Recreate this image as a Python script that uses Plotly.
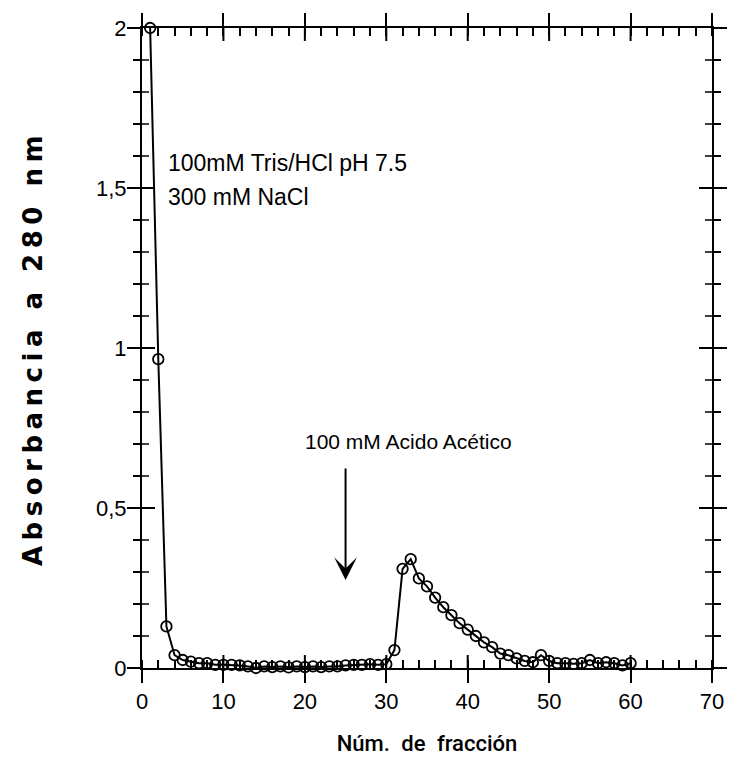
import numpy as np
import plotly.graph_objects as go

# ---- data -------------------------------------------------------------
fraccion = list(range(1, 61))
absorbancia = [
    2.0, 0.965, 0.13, 0.04, 0.025, 0.02, 0.015, 0.015, 0.01, 0.01,
    0.01, 0.008, 0.005, 0.0, 0.005, 0.003, 0.005, 0.002, 0.005, 0.003,
    0.005, 0.003, 0.005, 0.005, 0.008, 0.01, 0.01, 0.012, 0.01, 0.012,
    0.056, 0.31, 0.34, 0.28, 0.255, 0.22, 0.19, 0.165, 0.14, 0.12,
    0.10, 0.08, 0.065, 0.045, 0.04, 0.03, 0.022, 0.018, 0.04, 0.022,
    0.015, 0.015, 0.013, 0.015, 0.025, 0.015, 0.018, 0.015, 0.008, 0.015,
]
x_range = [0, 70]
y_range = [0, 2]
x_major, x_minor = 10, 2
y_major, y_minor = 0.5, 0.1

buffer_text = ["100mM Tris/HCl pH 7.5", "300 mM NaCl"]
buffer_pos = [(2.95, 1.578), (2.95, 1.472)]
acid_text = "100 mM Acido Acético"
acid_pos = (32.7, 0.709)
arrow_x = 25
arrow_tail_y = 0.628
arrow_tip_y = 0.275

x_title = "Núm. de fracción"
y_title = "Absorbancia a 280 nm"

# ---- figure -----------------------------------------------------------
TICK_FONT = dict(family="Liberation Sans, Arial, sans-serif", size=22, color="black")
TXT_FONT = "Liberation Sans, Arial, sans-serif"
MAJ_LEN, MIN_LEN = 13, 7

fig = go.Figure()
fig.add_trace(go.Scatter(
    x=fraccion, y=absorbancia, mode="lines+markers",
    line=dict(color="black", width=2),
    marker=dict(symbol="circle-open", size=10.5, color="black",
                line=dict(width=1.8, color="black")),
    cliponaxis=False, showlegend=False, hoverinfo="x+y",
))

common = dict(showgrid=False, zeroline=False, tickcolor="black",
              tickwidth=2, mirror="ticks", showline=True,
              linecolor="black", linewidth=2, tickfont=TICK_FONT)

fig.update_layout(
    width=738, height=773,
    margin=dict(l=142, r=26, t=28, b=105),
    paper_bgcolor="white", plot_bgcolor="white",
    separators=",.",
    xaxis=dict(
        range=x_range, tick0=0, dtick=x_major, ticks="outside", ticklen=MAJ_LEN,
        minor=dict(dtick=x_minor, tick0=0, ticks="inside", ticklen=8,
                   tickwidth=1.5, tickcolor="black"),
        title=dict(text='<span style="word-spacing:6px">' + x_title + '</span>',
                   font=dict(family="Roboto, Liberation Sans, sans-serif",
                             size=22, color="black", weight=500),
                   standoff=22),
        **common,
    ),
    yaxis=dict(
        range=y_range, tick0=0, dtick=y_major, ticks="outside", ticklen=MAJ_LEN,
        ticklabelstandoff=-4,
        minor=dict(dtick=y_minor, tick0=0, ticks="outside", ticklen=MIN_LEN,
                   tickwidth=1.5, tickcolor="black"),
        title=dict(text='<span style="letter-spacing:5.5px">' + y_title + '</span>',
                   font=dict(family="DejaVu Sans", size=26, color="black",
                             weight="bold"),
                   standoff=46),
        **common,
    ),
)

# inner halves of the crossing ticks (derived from the axis tick spacing)
shapes = []
tick_line = dict(color="black", width=2)
for v in np.arange(x_range[0] + x_major, x_range[1], x_major):
    for anchor, sign in ((y_range[0], 1), (y_range[1], -1)):
        shapes.append(dict(type="line", xref="x", yref="y",
                           ysizemode="pixel", yanchor=anchor,
                           x0=v, x1=v, y0=0, y1=sign * MAJ_LEN,
                           line=tick_line, layer="above"))
y_vals = np.round(np.arange(y_range[0] + y_minor, y_range[1] - 1e-9, y_minor), 3)
for v in y_vals:
    is_major = abs(v / y_major - round(v / y_major)) < 1e-6
    ln = MAJ_LEN if is_major else MIN_LEN
    w = 2 if is_major else 1.5
    for anchor, sign in ((x_range[0], 1), (x_range[1], -1)):
        shapes.append(dict(type="line", xref="x", yref="y",
                           xsizemode="pixel", xanchor=anchor,
                           y0=v, y1=v, x0=0, x1=sign * ln,
                           line=dict(color="black", width=w), layer="above"))
fig.update_layout(shapes=shapes)

for txt, (tx, ty) in zip(buffer_text, buffer_pos):
    fig.add_annotation(x=tx, y=ty, xref="x", yref="y", text=txt,
                       showarrow=False, xanchor="left", yanchor="middle",
                       font=dict(family=TXT_FONT, size=23, color="black"))

fig.add_annotation(x=acid_pos[0], y=acid_pos[1], xref="x", yref="y",
                   text=acid_text, showarrow=False, xanchor="center",
                   yanchor="middle",
                   font=dict(family=TXT_FONT, size=21, color="black"))

fig.add_annotation(x=arrow_x, y=arrow_tip_y, ax=arrow_x, ay=arrow_tail_y,
                   xref="x", yref="y", axref="x", ayref="y", text="",
                   showarrow=True, arrowhead=3, arrowsize=1.9,
                   arrowwidth=2, arrowcolor="black")

fig.write_html("out.html")
